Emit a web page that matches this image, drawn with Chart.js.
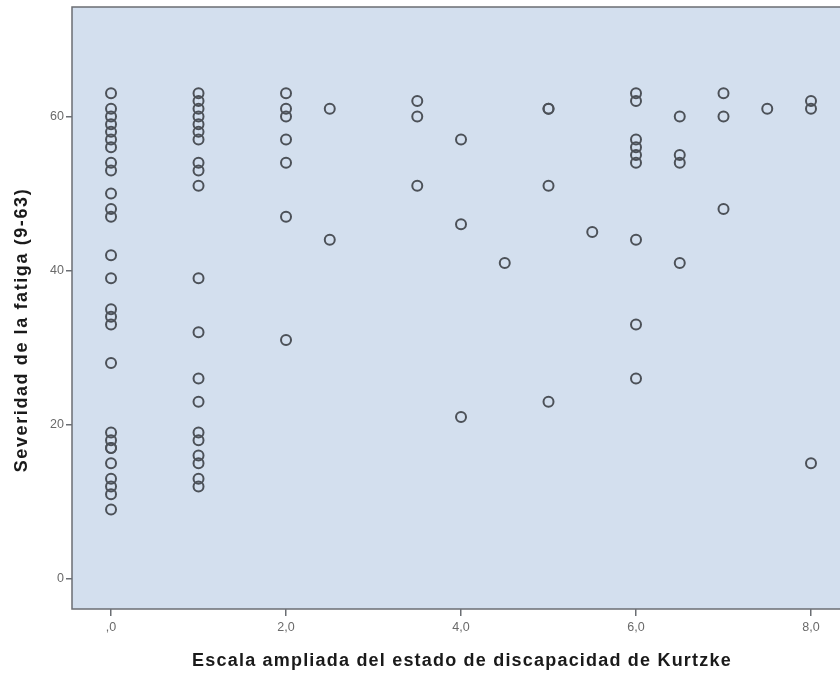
<!DOCTYPE html>
<html>
<head>
<meta charset="utf-8">
<script src="https://cdn.jsdelivr.net/npm/chart.js@4"></script>
<style>
  html, body { margin: 0; padding: 0; background: #fff; overflow: hidden; }
  #wrap { width: 860px; height: 675px; }
</style>
</head>
<body>
<div id="wrap"><canvas id="chart"></canvas></div>
<script>
// EDSS (Kurtzke) value for each patient, and the matching fatigue score
const edss = [
  0, 0, 0, 0, 0, 0, 0, 0, 0, 0, 0, 0, 0, 0, 0, 0, 0, 0, 0, 0, 0, 0, 0, 0, 0, 0, 0,
  1, 1, 1, 1, 1, 1, 1, 1, 1, 1, 1, 1, 1, 1, 1, 1, 1, 1, 1, 1,
  2, 2, 2, 2, 2, 2, 2,
  2.5, 2.5,
  3.5, 3.5, 3.5,
  4, 4, 4,
  4.5,
  5, 5, 5, 5,
  5.5,
  6, 6, 6, 6, 6, 6, 6, 6, 6,
  6.5, 6.5, 6.5, 6.5,
  7, 7, 7,
  7.5,
  8, 8, 8
];
const fatiga = [
  63, 61, 60, 59, 58, 57, 56, 54, 53, 50, 48, 47, 42, 39, 35, 34, 33, 28, 19, 18, 17, 17, 15, 13, 12, 11, 9,
  63, 62, 61, 60, 59, 58, 57, 54, 53, 51, 39, 32, 26, 23, 19, 18, 16, 15, 13, 12,
  63, 61, 60, 57, 54, 47, 31,
  61, 44,
  62, 60, 51,
  57, 46, 21,
  41,
  61, 61, 51, 23,
  45,
  63, 62, 57, 56, 55, 54, 44, 33, 26,
  60, 55, 54, 41,
  63, 60, 48,
  61,
  62, 61, 15
];
const xTicks = [0, 2, 4, 6, 8];
const xTickLabels = [',0', '2,0', '4,0', '6,0', '8,0'];
const yTicks = [0, 20, 40, 60];
const xTitle = 'Escala ampliada del estado de discapacidad de Kurtzke';
const yTitle = 'Severidad de la fatiga (9-63)';

const points = edss.map((x, i) => ({ x, y: fatiga[i] }));

const titleFont = 'bold 18px "Liberation Sans", Arial, sans-serif';

const plotFrame = {
  id: 'plotFrame',
  beforeDraw(chart) {
    const { ctx, chartArea: a } = chart;
    ctx.letterSpacing = '0px';
    ctx.save();
    ctx.fillStyle = '#d3dfee';
    ctx.fillRect(a.left, a.top, a.right - a.left, a.bottom - a.top);
    ctx.strokeStyle = '#6b6e73';
    ctx.lineWidth = 1.5;
    ctx.strokeRect(a.left, a.top, a.right - a.left + 20, a.bottom - a.top);
    ctx.restore();
  },
  afterDraw(chart) {
    const { ctx } = chart;
    ctx.save();
    ctx.font = titleFont;
    ctx.fillStyle = '#1a1a1a';
    ctx.textAlign = 'center';
    ctx.textBaseline = 'middle';
    ctx.letterSpacing = '1.2px';
    ctx.fillText(xTitle, 462, 661);
    ctx.letterSpacing = '1.6px';
    ctx.translate(22, 330);
    ctx.rotate(-Math.PI / 2);
    ctx.fillText(yTitle, 0, 0);
    ctx.restore();
  }
};

const tickFont = { family: '"Liberation Sans", Arial, sans-serif', size: 12.5 };

new Chart(document.getElementById('chart'), {
  type: 'scatter',
  data: {
    datasets: [{
      data: points,
      pointRadius: 5,
      pointHoverRadius: 5,
      pointBorderWidth: 2,
      pointBorderColor: '#4c5158',
      pointBackgroundColor: 'rgba(0,0,0,0)'
    }]
  },
  plugins: [plotFrame],
  options: {
    responsive: true,
    maintainAspectRatio: false,
    animation: false,
    layout: { autoPadding: false, padding: { top: 7, right: 0, left: 0, bottom: 0 } },
    plugins: { legend: { display: false }, tooltip: { enabled: false } },
    scales: {
      x: {
        type: 'linear',
        min: -0.446,
        max: 8.56,
        afterFit(s) { s.height = 66; s.paddingLeft = 0; s.paddingRight = 0; },
        afterBuildTicks(s) { s.ticks = xTicks.map(v => ({ value: v })); },
        border: { display: false },
        grid: { drawOnChartArea: false, tickLength: 7, color: '#6b6e73', lineWidth: 1.5 },
        ticks: {
          font: tickFont, color: '#6a6a6a', padding: 4, maxRotation: 0,
          callback: (v) => xTickLabels[xTicks.indexOf(v)]
        }
      },
      y: {
        type: 'linear',
        min: -3.9,
        max: 74.2,
        afterFit(s) { s.width = 72; s.paddingTop = 0; s.paddingBottom = 0; },
        afterBuildTicks(s) { s.ticks = yTicks.map(v => ({ value: v })); },
        border: { display: false },
        grid: { drawOnChartArea: false, tickLength: 6, color: '#6b6e73', lineWidth: 1.5 },
        ticks: { font: tickFont, color: '#6a6a6a', padding: 2 }
      }
    }
  }
});
</script>
</body>
</html>
